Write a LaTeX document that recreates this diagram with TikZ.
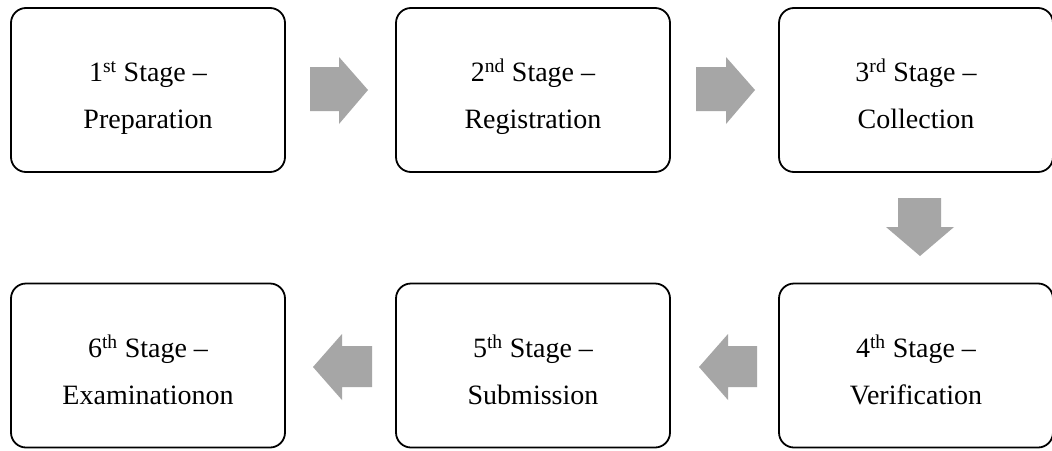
\documentclass[tikz,border=0pt]{standalone}
\usepackage{fontspec}
\setmainfont{Liberation Serif}
\begin{document}
\begin{tikzpicture}[x=1pt,y=-1pt,
  stagebox/.style={draw=black,line width=1.8pt,rounded corners=15pt,minimum width=274pt,minimum height=164pt,inner sep=0pt},
  stagetext/.style={align=center,font=\fontsize{28}{47}\selectfont,inner sep=0pt},
  blockarrow/.style={fill=black!35,draw=none}]
\useasboundingbox (0,0) rectangle (1052,450);
\fill[white] (0,0) rectangle (1052,450);
% boxes
\node[stagebox] (s1) at (148,90) {};
\node[stagebox] (s2) at (533,90) {};
\node[stagebox] (s3) at (916,90) {};
\node[stagebox] (s4) at (916,365.5) {};
\node[stagebox] (s5) at (533,365.5) {};
\node[stagebox] (s6) at (148,365.5) {};
% texts
\node[stagetext] (t1) at ([yshift=-6pt]s1.center) {\strut 1\textsuperscript{st} Stage –\\\strut Preparation};
\node[stagetext] (t2) at ([yshift=-6pt]s2.center) {\strut 2\textsuperscript{nd} Stage –\\\strut Registration};
\node[stagetext] (t3) at ([yshift=-6pt]s3.center) {\strut 3\textsuperscript{rd} Stage –\\\strut Collection};
\node[stagetext] (t4) at ([yshift=-6pt]s4.center) {\strut 4\textsuperscript{th} Stage –\\\strut Verification};
\node[stagetext] (t5) at ([yshift=-6pt]s5.center) {\strut 5\textsuperscript{th} Stage –\\\strut Submission};
\node[stagetext] (t6) at ([yshift=-6pt]s6.center) {\strut 6\textsuperscript{th} Stage –\\\strut Examinationon};
% block arrows
\fill[blockarrow] (310,67) -- (339,67) -- (339,57) -- (368,90) -- (339,124) -- (339,111) -- (310,111) -- cycle;
\fill[blockarrow] (696,67) -- (726,67) -- (726,57) -- (755,90) -- (726,124) -- (726,111) -- (696,111) -- cycle;
\fill[blockarrow] (898,198) -- (941,198) -- (941,227) -- (954,227) -- (920,256) -- (886,227) -- (898,227) -- cycle;
\fill[blockarrow] (757,346) -- (728,346) -- (728,334) -- (699,367) -- (728,400) -- (728,387) -- (757,387) -- cycle;
\fill[blockarrow] (372,346) -- (342,346) -- (342,334) -- (313,367) -- (342,400) -- (342,387) -- (372,387) -- cycle;
\end{tikzpicture}
\end{document}
